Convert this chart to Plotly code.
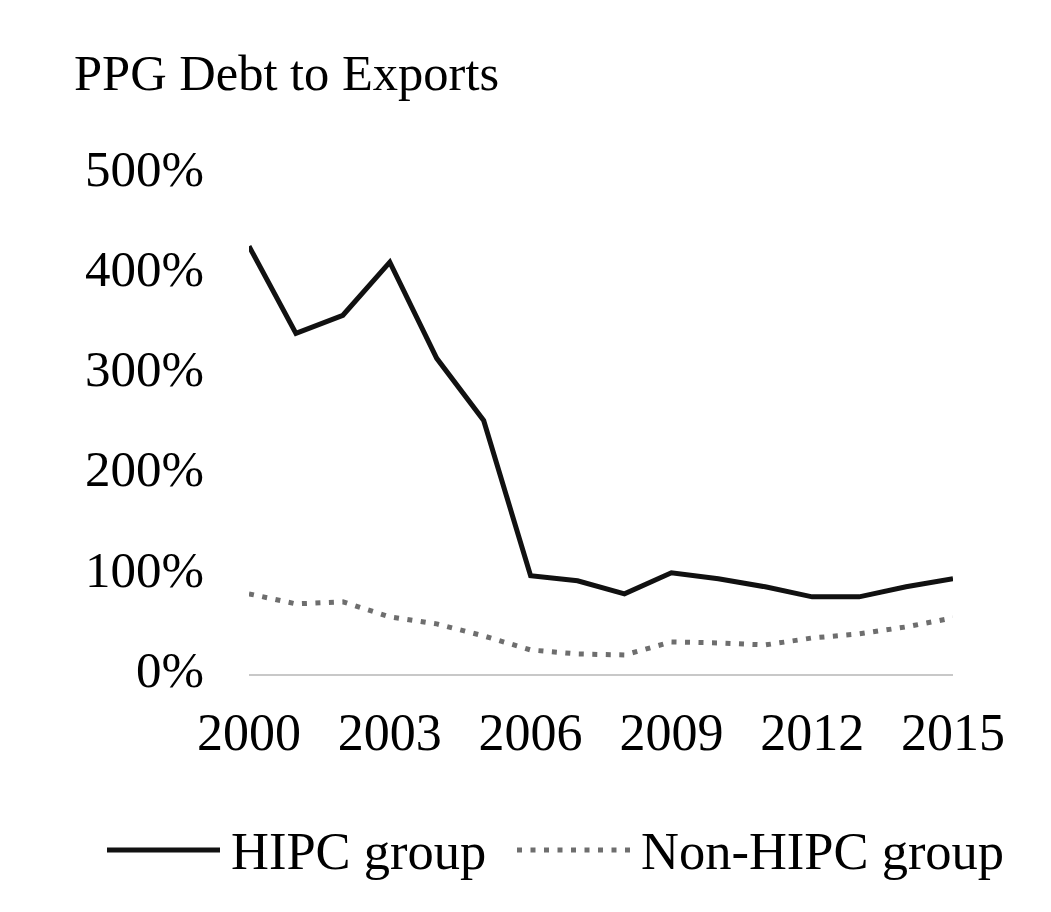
import plotly.graph_objects as go

years = list(range(2000, 2016))
hipc = [427, 340, 358, 411, 315, 253, 98, 93, 80, 101, 95, 87, 77, 77, 87, 95]
non_hipc = [80, 70, 72, 57, 50, 38, 24, 20, 19, 32, 31, 29, 36, 40, 47, 56]
y_ticks = [0, 100, 200, 300, 400, 500]
y_tick_labels = ["0%", "100%", "200%", "300%", "400%", "500%"]
x_ticks = [2000, 2003, 2006, 2009, 2012, 2015]
series_names = ["HIPC group", "Non-HIPC group"]
title_text = "PPG Debt to Exports"

W, H = 1051, 912
OFF = 8  # page body margin
# plot area in page coordinates
P_LEFT, P_RIGHT, P_TOP, P_BOTTOM = 249, 953, 173, 674
ML = P_LEFT - OFF
MR = W - (P_RIGHT - OFF)
MT = P_TOP - OFF
MB = H - (P_BOTTOM - OFF)
PW = W - ML - MR
PH = H - MT - MB

def px(x):
    return (x - OFF - ML) / PW

def py(y):
    return (H - MB - (y - OFF)) / PH

FONT = "Liberation Serif"
solid_color = "#111111"
dot_color = "#6e6e6e"

fig = go.Figure()
fig.add_trace(go.Scatter(x=years, y=hipc, mode="lines", name=series_names[0],
                         line=dict(color=solid_color, width=5), showlegend=False))
fig.add_trace(go.Scatter(x=years, y=non_hipc, mode="lines", name=series_names[1],
                         line=dict(color=dot_color, width=5, dash="5px,8.5px"), showlegend=False))

shapes = [
    dict(type="line", xref="paper", yref="paper", x0=px(107), x1=px(220), y0=py(850), y1=py(850),
         line=dict(color=solid_color, width=5)),
    dict(type="line", xref="paper", yref="paper", x0=px(517), x1=px(635), y0=py(850), y1=py(850),
         line=dict(color=dot_color, width=5, dash="5px,8.5px")),
]

annotations = [
    dict(text=series_names[0], xref="paper", yref="paper", x=px(229), y=py(851),
         xanchor="left", yanchor="middle", showarrow=False,
         font=dict(family=FONT, size=52.5, color="#000000")),
    dict(text=series_names[1], xref="paper", yref="paper", x=px(639), y=py(851),
         xanchor="left", yanchor="middle", showarrow=False,
         font=dict(family=FONT, size=52.5, color="#000000")),
]

fig.update_layout(
    width=W, height=H,
    margin=dict(l=ML, r=MR, t=MT, b=MB, pad=0),
    paper_bgcolor="white",
    plot_bgcolor="white",
    font=dict(family=FONT, size=51, color="#000000"),
    title=dict(text=title_text, x=(74 - OFF) / W, xref="container", xanchor="left",
               y=1 - (72 - OFF) / H, yref="container", yanchor="middle",
               font=dict(family=FONT, size=50.5, color="#000000")),
    shapes=shapes,
    annotations=annotations,
    showlegend=False,
)
fig.update_xaxes(range=[2000, 2015], tickvals=x_ticks, ticktext=[str(v) for v in x_ticks],
                 showgrid=False, zeroline=False, showline=True, linecolor="#c8c8c8", linewidth=2,
                 ticks="", ticklabelstandoff=12, tickfont=dict(family=FONT, size=52))
fig.update_yaxes(range=[0, 500], tickvals=y_ticks, ticktext=y_tick_labels,
                 showgrid=False, zeroline=False, showline=False,
                 ticks="", ticklabelstandoff=44, ticklabelshift=-5,
                 tickfont=dict(family=FONT, size=51))

fig.write_html("out.html")
